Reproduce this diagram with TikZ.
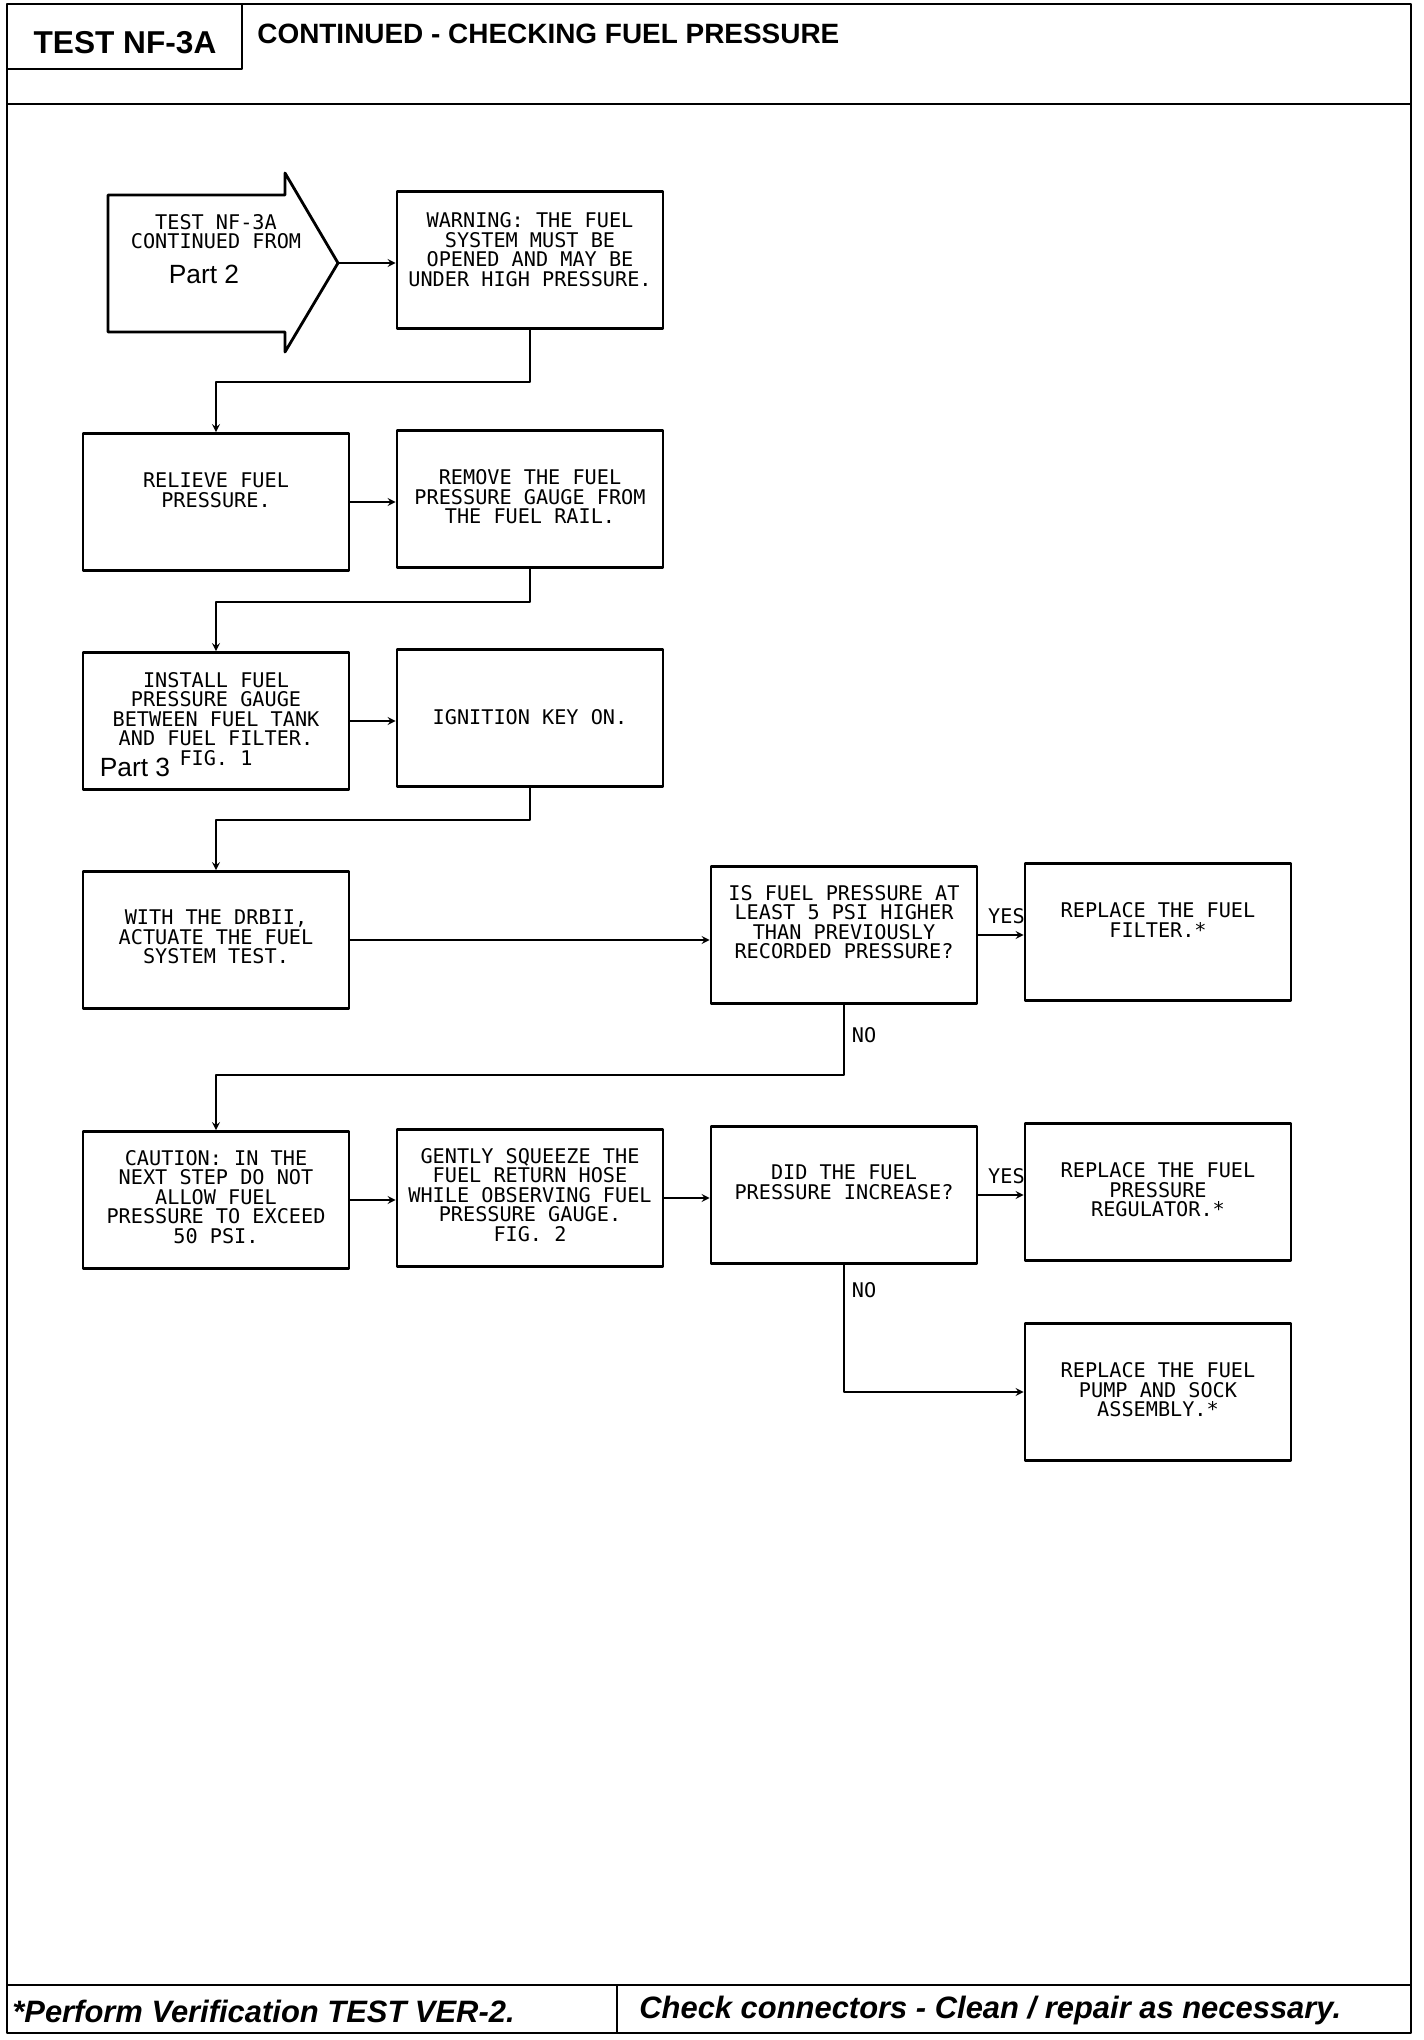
\documentclass[tikz,border=0pt]{standalone}
\usepackage{fontspec}
\setmainfont{Liberation Sans}
\setmonofont{DejaVu Sans Mono}
\usetikzlibrary{positioning}
\tikzset{
  stepbox/.style={draw, line width=1.6pt, minimum width=5.32cm, minimum height=2.74cm, inner sep=0pt},
  boxtext/.style={font=\ttfamily\fontsize{11.5}{11.1}\selectfont, align=center, inner sep=0pt},
  tag/.style={font=\ttfamily\fontsize{11.5}{11.1}\selectfont, inner sep=0pt},
  flow/.style={->, line width=1pt},
  headfont/.style={font=\bfseries\fontsize{#1}{#1}\selectfont, inner sep=0pt},
  footfont/.style={font=\bfseries\itshape\fontsize{17.6}{17.6}\selectfont, inner sep=0pt, anchor=west},
}
\begin{document}
\begin{tikzpicture}[x=0.02cm, y=-0.02cm, line join=round, >=stealth]
\useasboundingbox (0,0) rectangle (1424,2040);
% frame, header and footer
\draw[line width=1.6pt] (7,4) rectangle (1411,2033);
\draw[line width=1.6pt] (7,69) -- (242,69) -- (242,4)
  (7,104) -- (1411,104)
  (7,1985) -- (1411,1985)
  (617,1985) -- (617,2033);
\node[headfont=18] (testno) at (125,43) {TEST NF-3A};
\node[headfont=15.9, anchor=west] (title) at (257,34) {CONTINUED - CHECKING FUEL PRESSURE};
\node[footfont] (verify) at (12,2011) {*Perform Verification TEST VER-2.};
\node[footfont] (connect) at (639,2010) {Check connectors - Clean / repair as necessary.};

% entry arrow
\path
(108,195) coordinate (a1)
(285,195) coordinate (a2)
(285,173) coordinate (a3)
(338,263) coordinate (tip)
(285,352) coordinate (a4)
(285,332) coordinate (a5)
(108,332) coordinate (a6)
;
\draw[line width=1.6pt] (a1)--(a2)--(a3)--(tip)--(a4)--(a5)--(a6)--cycle;
\node[boxtext, anchor=north] (fromtxt) at (216,214) {TEST NF-3A\\CONTINUED FROM};
\node[font=\fontsize{15}{15}\selectfont, inner sep=0pt] (part2) at (204,274) {Part 2};

% boxes
\node[stepbox] (warn) at (530,260) {};
\node[stepbox] (relieve) at (216,502) {};
\node[stepbox] (remove) at (530,499) {};
\node[stepbox] (install) at (216,721) {};
\node[stepbox] (ignition) at (530,718) {};
\node[stepbox] (drbii) at (216,940) {};
\node[stepbox] (check) at (844,935) {};
\node[stepbox] (filter) at (1158,932) {};
\node[stepbox] (caution) at (216,1200) {};
\node[stepbox] (squeeze) at (530,1198) {};
\node[stepbox] (increase) at (844,1195) {};
\node[stepbox] (regulator) at (1158,1192) {};
\node[stepbox] (pump) at (1158,1392) {};

% box texts
\node[boxtext, below=0.45cm of warn.north] (warntxt) {WARNING: THE FUEL\\SYSTEM MUST BE\\OPENED AND MAY BE\\UNDER HIGH PRESSURE.};
\node[boxtext, below=0.81cm of relieve.north] (relievetxt) {RELIEVE FUEL\\PRESSURE.};
\node[boxtext, below=0.81cm of remove.north] (removetxt) {REMOVE THE FUEL\\PRESSURE GAUGE FROM\\THE FUEL RAIL.};
\node[boxtext, below=0.42cm of install.north] (installtxt) {INSTALL FUEL\\PRESSURE GAUGE\\BETWEEN FUEL TANK\\AND FUEL FILTER.\\FIG. 1};
\node[font=\fontsize{15}{15}\selectfont, inner sep=0pt] (part3) at (135,767) {Part 3};
\node[boxtext, below=1.23cm of ignition.north] (ignitiontxt) {IGNITION KEY ON.};
\node[boxtext, below=0.79cm of drbii.north] (drbiitxt) {WITH THE DRBII,\\ACTUATE THE FUEL\\SYSTEM TEST.};
\node[boxtext, below=0.40cm of check.north] (checktxt) {IS FUEL PRESSURE AT\\LEAST 5 PSI HIGHER\\THAN PREVIOUSLY\\RECORDED PRESSURE?};
\node[boxtext, below=0.81cm of filter.north] (filtertxt) {REPLACE THE FUEL\\FILTER.*};
\node[boxtext, below=0.40cm of caution.north] (cautiontxt) {CAUTION:  IN THE\\NEXT STEP DO NOT\\ALLOW FUEL\\PRESSURE TO EXCEED\\50 PSI.};
\node[boxtext, below=0.40cm of squeeze.north] (squeezetxt) {GENTLY SQUEEZE THE\\FUEL RETURN HOSE\\WHILE OBSERVING FUEL\\PRESSURE GAUGE.\\FIG. 2};
\node[boxtext, below=0.79cm of increase.north] (increasetxt) {DID THE FUEL\\PRESSURE INCREASE?};
\node[boxtext, below=0.81cm of regulator.north] (regulatortxt) {REPLACE THE FUEL\\PRESSURE\\REGULATOR.*};
\node[boxtext, below=0.81cm of pump.north] (pumptxt) {REPLACE THE FUEL\\PUMP AND SOCK\\ASSEMBLY.*};

% connectors
\draw[flow] (tip) -- (tip -| warn.west);
\draw[flow] (warn.south) -- ++(0,52) -| (relieve.north);
\draw[flow] (relieve.east) -- (relieve.east -| remove.west);
\draw[flow] (remove.south) -- ++(0,33) -| (install.north);
\draw[flow] (install.east) -- (install.east -| ignition.west);
\draw[flow] (ignition.south) -- ++(0,32) -| (drbii.north);
\draw[flow] (drbii.east) -- (drbii.east -| check.west);
\draw[flow] (check.east) -- node[tag, pos=0.62, above=6pt] (yes1) {YES} (check.east -| filter.west);
\draw[flow] (check.south) -- node[tag, pos=0.43, right=4pt] (no1) {NO} ++(0,70) -| (caution.north);
\draw[flow] (caution.east) -- (caution.east -| squeeze.west);
\draw[flow] (squeeze.east) -- (squeeze.east -| increase.west);
\draw[flow] (increase.east) -- node[tag, pos=0.62, above=6pt] (yes2) {YES} (increase.east -| regulator.west);
\draw[flow] (increase.south) |- node[tag, pos=0.1, right=4pt] (no2) {NO} (pump.west);
\end{tikzpicture}
\end{document}
